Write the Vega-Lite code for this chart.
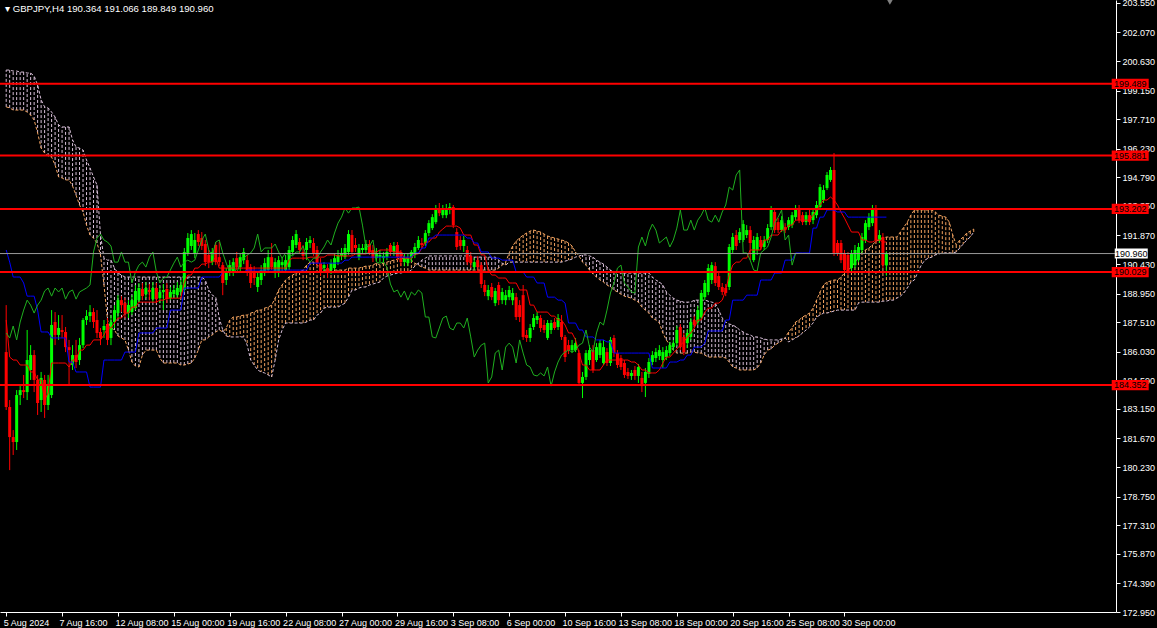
{
"$schema":"https://vega.github.io/schema/vega-lite/v6.json",
"width":1116,"height":612,
"autosize":{"type":"none"},
"padding":{"left":0,"top":0,"right":41,"bottom":16},
"background":"#000000",
"title":{"text":"▾ GBPJPY,H4  190.364 191.066 189.849 190.960","anchor":"start","offset":-15,"dx":5,"frame":"group"},
"config":{"view":{"stroke":null},"title":{"fontSize":9.6,"font":"Liberation Sans","fontWeight":"normal","color":"#ffffff"},"axis":{"labelFont":"Liberation Sans","labelFontSize":9,"labelColor":"#ffffff","domainColor":"#ffffff","tickColor":"#ffffff","grid":false,"labelOverlap":false,"labelFlush":false,"tickSize":4,"labelPadding":2}},
"datasets":{
"bars":[
{"i":0,"open":186.01,"high":188.37,"low":183.10,"close":183.25,"tenkan":187.62,"kijun":191.14,"chikou":186.97},
{"i":1,"open":183.25,"high":183.60,"low":180.08,"close":181.74,"tenkan":185.76,"kijun":190.53,"chikou":186.72},
{"i":2,"open":181.74,"high":182.09,"low":180.84,"close":181.49,"tenkan":185.61,"kijun":189.78,"chikou":187.32},
{"i":3,"open":181.49,"high":184.10,"low":181.09,"close":183.85,"tenkan":185.61,"kijun":189.78,"chikou":186.62},
{"i":4,"open":183.85,"high":184.36,"low":183.35,"close":184.10,"tenkan":185.36,"kijun":189.78,"chikou":187.52},
{"i":5,"open":184.10,"high":184.86,"low":183.70,"close":184.00,"tenkan":185.36,"kijun":189.48,"chikou":188.12},
{"i":6,"open":184.00,"high":187.12,"low":183.60,"close":185.61,"tenkan":185.36,"kijun":188.82,"chikou":188.62},
{"i":7,"open":185.11,"high":186.36,"low":184.61,"close":185.86,"tenkan":185.01,"kijun":188.82,"chikou":188.37},
{"i":8,"open":185.86,"high":186.11,"low":184.00,"close":184.61,"tenkan":185.01,"kijun":188.82,"chikou":187.97},
{"i":9,"open":184.61,"high":184.86,"low":182.85,"close":183.45,"tenkan":184.61,"kijun":188.12,"chikou":188.37},
{"i":10,"open":183.60,"high":185.01,"low":183.00,"close":184.71,"tenkan":184.61,"kijun":187.02,"chikou":188.62},
{"i":11,"open":184.61,"high":184.86,"low":182.70,"close":183.35,"tenkan":183.60,"kijun":187.02,"chikou":189.08},
{"i":12,"open":183.35,"high":184.86,"low":183.10,"close":184.36,"tenkan":183.95,"kijun":187.02,"chikou":189.23},
{"i":13,"open":183.85,"high":188.12,"low":183.70,"close":187.37,"tenkan":185.46,"kijun":186.72,"chikou":188.82},
{"i":14,"open":187.52,"high":188.02,"low":186.36,"close":186.87,"tenkan":185.46,"kijun":186.72,"chikou":189.23},
{"i":15,"open":186.87,"high":187.87,"low":186.62,"close":187.22,"tenkan":185.46,"kijun":186.72,"chikou":189.03},
{"i":16,"open":187.12,"high":187.87,"low":186.72,"close":187.02,"tenkan":185.46,"kijun":186.72,"chikou":189.23},
{"i":17,"open":187.02,"high":187.27,"low":186.01,"close":186.26,"tenkan":185.46,"kijun":186.72,"chikou":188.67},
{"i":18,"open":186.26,"high":186.62,"low":184.36,"close":186.11,"tenkan":185.26,"kijun":185.51,"chikou":189.03},
{"i":19,"open":185.36,"high":186.36,"low":185.11,"close":185.86,"tenkan":185.61,"kijun":185.51,"chikou":189.13},
{"i":20,"open":185.86,"high":186.62,"low":185.21,"close":185.51,"tenkan":185.61,"kijun":185.01,"chikou":188.67},
{"i":21,"open":185.61,"high":186.72,"low":185.36,"close":186.36,"tenkan":186.11,"kijun":185.01,"chikou":189.03},
{"i":22,"open":186.36,"high":187.72,"low":186.21,"close":187.62,"tenkan":186.11,"kijun":185.01,"chikou":189.13},
{"i":23,"open":187.62,"high":188.12,"low":187.37,"close":187.82,"tenkan":186.36,"kijun":185.01,"chikou":189.23},
{"i":24,"open":187.82,"high":188.37,"low":187.52,"close":188.02,"tenkan":186.36,"kijun":184.25,"chikou":189.38},
{"i":25,"open":188.02,"high":188.22,"low":187.22,"close":187.52,"tenkan":186.62,"kijun":184.25,"chikou":191.04},
{"i":26,"open":187.62,"high":188.12,"low":186.72,"close":186.97,"tenkan":186.62,"kijun":184.25,"chikou":191.74},
{"i":27,"open":187.02,"high":187.22,"low":186.36,"close":186.72,"tenkan":186.62,"kijun":184.25,"chikou":191.94},
{"i":28,"open":187.12,"high":187.62,"low":186.72,"close":187.32,"tenkan":186.87,"kijun":185.61,"chikou":191.64},
{"i":29,"open":187.42,"high":187.72,"low":186.36,"close":186.62,"tenkan":187.22,"kijun":185.61,"chikou":191.54},
{"i":30,"open":186.72,"high":187.87,"low":186.36,"close":187.52,"tenkan":187.22,"kijun":185.61,"chikou":191.34},
{"i":31,"open":187.52,"high":188.37,"low":187.22,"close":188.12,"tenkan":187.47,"kijun":185.61,"chikou":190.53},
{"i":32,"open":187.97,"high":188.87,"low":187.72,"close":188.62,"tenkan":187.72,"kijun":185.61,"chikou":190.53},
{"i":33,"open":188.62,"high":188.82,"low":188.02,"close":188.37,"tenkan":187.72,"kijun":185.61,"chikou":191.04},
{"i":34,"open":188.47,"high":188.72,"low":187.72,"close":187.97,"tenkan":187.97,"kijun":186.01,"chikou":190.53},
{"i":35,"open":187.97,"high":188.62,"low":187.72,"close":188.37,"tenkan":187.97,"kijun":186.01,"chikou":190.53},
{"i":36,"open":188.02,"high":188.87,"low":187.87,"close":188.62,"tenkan":188.27,"kijun":186.01,"chikou":189.48},
{"i":37,"open":188.22,"high":189.38,"low":188.12,"close":189.08,"tenkan":188.27,"kijun":186.01,"chikou":190.03},
{"i":38,"open":188.62,"high":189.48,"low":188.52,"close":189.23,"tenkan":188.52,"kijun":186.97,"chikou":190.38},
{"i":39,"open":189.18,"high":189.48,"low":188.62,"close":188.82,"tenkan":188.52,"kijun":186.97,"chikou":190.53},
{"i":40,"open":188.92,"high":189.53,"low":188.72,"close":189.23,"tenkan":188.52,"kijun":186.97,"chikou":190.28},
{"i":41,"open":189.13,"high":189.43,"low":188.62,"close":189.03,"tenkan":188.52,"kijun":186.97,"chikou":190.78},
{"i":42,"open":188.67,"high":189.53,"low":188.52,"close":189.23,"tenkan":188.52,"kijun":186.97,"chikou":191.04},
{"i":43,"open":189.23,"high":189.48,"low":188.47,"close":188.67,"tenkan":188.52,"kijun":187.22,"chikou":190.03},
{"i":44,"open":188.72,"high":189.33,"low":188.47,"close":189.03,"tenkan":188.62,"kijun":187.22,"chikou":189.48},
{"i":45,"open":189.03,"high":189.43,"low":188.12,"close":189.13,"tenkan":188.62,"kijun":187.22,"chikou":189.73},
{"i":46,"open":189.18,"high":189.48,"low":188.47,"close":188.67,"tenkan":188.72,"kijun":187.22,"chikou":189.78},
{"i":47,"open":188.72,"high":189.28,"low":188.62,"close":189.03,"tenkan":188.72,"kijun":188.12,"chikou":190.13},
{"i":48,"open":188.92,"high":189.38,"low":188.72,"close":189.13,"tenkan":188.72,"kijun":188.12,"chikou":190.48},
{"i":49,"open":188.87,"high":189.53,"low":188.72,"close":189.23,"tenkan":188.72,"kijun":188.12,"chikou":190.78},
{"i":50,"open":189.03,"high":189.63,"low":188.82,"close":189.38,"tenkan":188.72,"kijun":188.12,"chikou":190.28},
{"i":51,"open":189.13,"high":191.24,"low":189.03,"close":191.04,"tenkan":189.53,"kijun":189.23,"chikou":190.53},
{"i":52,"open":190.99,"high":191.99,"low":190.84,"close":191.74,"tenkan":189.88,"kijun":189.23,"chikou":190.63},
{"i":53,"open":191.34,"high":192.14,"low":191.14,"close":191.94,"tenkan":189.88,"kijun":189.23,"chikou":190.53},
{"i":54,"open":190.94,"high":191.99,"low":190.73,"close":191.64,"tenkan":190.23,"kijun":189.23,"chikou":190.63},
{"i":55,"open":191.94,"high":192.14,"low":191.34,"close":191.54,"tenkan":190.23,"kijun":189.23,"chikou":191.14},
{"i":56,"open":191.74,"high":192.04,"low":191.14,"close":191.34,"tenkan":190.43,"kijun":189.78,"chikou":191.64},
{"i":57,"open":191.44,"high":191.64,"low":190.33,"close":190.53,"tenkan":190.43,"kijun":189.78,"chikou":191.94},
{"i":58,"open":190.89,"high":191.14,"low":190.23,"close":190.53,"tenkan":190.53,"kijun":189.78,"chikou":191.14},
{"i":59,"open":190.53,"high":191.24,"low":190.38,"close":191.04,"tenkan":190.53,"kijun":189.78,"chikou":190.84},
{"i":60,"open":191.39,"high":191.54,"low":190.38,"close":190.53,"tenkan":190.78,"kijun":189.78,"chikou":191.54},
{"i":61,"open":190.78,"high":191.54,"low":190.33,"close":190.53,"tenkan":190.23,"kijun":189.78,"chikou":191.64},
{"i":62,"open":190.38,"high":190.53,"low":188.87,"close":189.48,"tenkan":190.23,"kijun":190.03,"chikou":190.99},
{"i":63,"open":189.63,"high":190.23,"low":189.38,"close":190.03,"tenkan":190.23,"kijun":190.03,"chikou":190.48},
{"i":64,"open":190.03,"high":190.63,"low":189.83,"close":190.38,"tenkan":190.23,"kijun":190.03,"chikou":190.03},
{"i":65,"open":190.08,"high":190.73,"low":189.83,"close":190.53,"tenkan":190.23,"kijun":190.03,"chikou":190.38},
{"i":66,"open":190.73,"high":191.04,"low":190.13,"close":190.28,"tenkan":190.23,"kijun":190.03,"chikou":189.98},
{"i":67,"open":190.28,"high":190.94,"low":190.08,"close":190.78,"tenkan":190.23,"kijun":190.03,"chikou":190.48},
{"i":68,"open":190.63,"high":191.24,"low":190.43,"close":191.04,"tenkan":190.23,"kijun":190.03,"chikou":190.73},
{"i":69,"open":190.63,"high":190.89,"low":189.83,"close":190.03,"tenkan":190.23,"kijun":190.13,"chikou":190.89},
{"i":70,"open":190.28,"high":190.43,"low":189.23,"close":189.48,"tenkan":190.23,"kijun":190.13,"chikou":190.99},
{"i":71,"open":190.03,"high":190.33,"low":189.38,"close":189.73,"tenkan":190.23,"kijun":190.13,"chikou":191.24},
{"i":72,"open":189.28,"high":190.03,"low":189.03,"close":189.78,"tenkan":190.23,"kijun":190.13,"chikou":191.94},
{"i":73,"open":189.63,"high":190.38,"low":189.38,"close":190.13,"tenkan":190.23,"kijun":190.13,"chikou":191.04},
{"i":74,"open":189.98,"high":190.73,"low":189.83,"close":190.48,"tenkan":190.23,"kijun":190.13,"chikou":191.24},
{"i":75,"open":190.13,"high":191.14,"low":189.98,"close":190.78,"tenkan":190.23,"kijun":190.13,"chikou":191.24},
{"i":76,"open":190.78,"high":191.49,"low":190.13,"close":190.28,"tenkan":190.23,"kijun":190.13,"chikou":191.24},
{"i":77,"open":189.98,"high":190.73,"low":189.73,"close":190.53,"tenkan":190.23,"kijun":190.13,"chikou":191.44},
{"i":78,"open":189.98,"high":190.84,"low":189.78,"close":190.63,"tenkan":190.23,"kijun":190.13,"chikou":191.04},
{"i":79,"open":190.38,"high":190.78,"low":190.03,"close":190.53,"tenkan":190.23,"kijun":190.13,"chikou":190.73},
{"i":80,"open":190.13,"high":190.89,"low":189.98,"close":190.63,"tenkan":190.23,"kijun":190.13,"chikou":190.99},
{"i":81,"open":190.28,"high":191.34,"low":190.13,"close":191.14,"tenkan":190.63,"kijun":190.13,"chikou":190.89},
{"i":82,"open":191.04,"high":191.84,"low":190.89,"close":191.64,"tenkan":190.73,"kijun":190.13,"chikou":190.84},
{"i":83,"open":191.39,"high":192.14,"low":191.24,"close":191.94,"tenkan":190.73,"kijun":190.13,"chikou":191.04},
{"i":84,"open":191.54,"high":191.74,"low":190.94,"close":191.14,"tenkan":190.73,"kijun":190.13,"chikou":191.04},
{"i":85,"open":191.04,"high":191.39,"low":190.63,"close":190.84,"tenkan":190.73,"kijun":190.13,"chikou":191.34},
{"i":86,"open":191.14,"high":191.74,"low":190.63,"close":191.54,"tenkan":190.73,"kijun":190.13,"chikou":190.78},
{"i":87,"open":191.49,"high":191.84,"low":191.24,"close":191.64,"tenkan":190.78,"kijun":190.48,"chikou":190.53},
{"i":88,"open":191.49,"high":191.74,"low":190.84,"close":190.99,"tenkan":190.78,"kijun":190.48,"chikou":190.73},
{"i":89,"open":191.14,"high":191.34,"low":190.33,"close":190.48,"tenkan":190.78,"kijun":190.48,"chikou":190.73},
{"i":90,"open":190.48,"high":190.73,"low":189.83,"close":190.03,"tenkan":190.78,"kijun":190.48,"chikou":191.04},
{"i":91,"open":190.23,"high":190.53,"low":190.03,"close":190.38,"tenkan":190.78,"kijun":190.48,"chikou":191.29},
{"i":92,"open":190.23,"high":190.43,"low":189.73,"close":189.98,"tenkan":190.89,"kijun":190.48,"chikou":191.64},
{"i":93,"open":190.13,"high":190.68,"low":189.93,"close":190.48,"tenkan":190.89,"kijun":190.48,"chikou":191.39},
{"i":94,"open":190.23,"high":190.94,"low":190.13,"close":190.73,"tenkan":190.89,"kijun":190.48,"chikou":191.99},
{"i":95,"open":190.53,"high":191.14,"low":190.38,"close":190.89,"tenkan":190.84,"kijun":190.48,"chikou":192.49},
{"i":96,"open":190.84,"high":191.24,"low":190.63,"close":190.99,"tenkan":190.84,"kijun":190.48,"chikou":192.79},
{"i":97,"open":190.78,"high":191.44,"low":190.68,"close":191.24,"tenkan":190.84,"kijun":190.63,"chikou":193.25},
{"i":98,"open":191.04,"high":192.14,"low":190.89,"close":191.94,"tenkan":190.84,"kijun":190.63,"chikou":192.99},
{"i":99,"open":191.89,"high":192.14,"low":190.89,"close":191.04,"tenkan":190.84,"kijun":190.78,"chikou":193.25},
{"i":100,"open":191.39,"high":191.74,"low":191.04,"close":191.24,"tenkan":190.94,"kijun":190.78,"chikou":193.25},
{"i":101,"open":190.78,"high":191.44,"low":190.63,"close":191.24,"tenkan":190.94,"kijun":190.78,"chikou":193.30},
{"i":102,"open":191.14,"high":191.44,"low":190.99,"close":191.24,"tenkan":190.94,"kijun":190.78,"chikou":192.39},
{"i":103,"open":191.14,"high":191.64,"low":190.94,"close":191.44,"tenkan":190.94,"kijun":190.78,"chikou":191.29},
{"i":104,"open":191.44,"high":191.64,"low":190.89,"close":191.04,"tenkan":191.04,"kijun":190.78,"chikou":191.34},
{"i":105,"open":191.14,"high":191.39,"low":190.53,"close":190.73,"tenkan":191.04,"kijun":190.78,"chikou":191.64},
{"i":106,"open":190.73,"high":191.24,"low":190.58,"close":190.99,"tenkan":191.04,"kijun":190.78,"chikou":190.53},
{"i":107,"open":190.78,"high":191.14,"low":190.53,"close":190.89,"tenkan":191.14,"kijun":190.78,"chikou":190.48},
{"i":108,"open":190.73,"high":191.04,"low":190.53,"close":190.84,"tenkan":191.14,"kijun":190.78,"chikou":190.53},
{"i":109,"open":190.78,"high":191.24,"low":190.63,"close":191.04,"tenkan":191.14,"kijun":190.78,"chikou":190.28},
{"i":110,"open":191.39,"high":191.49,"low":190.84,"close":191.04,"tenkan":191.14,"kijun":190.78,"chikou":189.43},
{"i":111,"open":191.04,"high":191.54,"low":190.84,"close":191.34,"tenkan":191.04,"kijun":190.78,"chikou":189.03},
{"i":112,"open":191.39,"high":191.54,"low":190.63,"close":190.78,"tenkan":191.04,"kijun":190.78,"chikou":189.13},
{"i":113,"open":191.04,"high":191.14,"low":190.33,"close":190.53,"tenkan":191.04,"kijun":190.78,"chikou":188.77},
{"i":114,"open":190.53,"high":190.94,"low":190.33,"close":190.73,"tenkan":190.73,"kijun":190.78,"chikou":189.08},
{"i":115,"open":190.48,"high":190.94,"low":190.33,"close":190.73,"tenkan":190.73,"kijun":190.78,"chikou":188.62},
{"i":116,"open":190.73,"high":191.14,"low":190.53,"close":191.04,"tenkan":190.73,"kijun":190.78,"chikou":189.03},
{"i":117,"open":190.89,"high":191.49,"low":190.73,"close":191.29,"tenkan":190.94,"kijun":190.99,"chikou":188.87},
{"i":118,"open":191.24,"high":191.84,"low":191.14,"close":191.64,"tenkan":190.94,"kijun":190.99,"chikou":189.13},
{"i":119,"open":191.49,"high":191.74,"low":191.19,"close":191.39,"tenkan":191.24,"kijun":191.24,"chikou":188.98},
{"i":120,"open":191.49,"high":192.14,"low":191.34,"close":191.99,"tenkan":191.54,"kijun":191.24,"chikou":187.77},
{"i":121,"open":191.99,"high":192.64,"low":191.84,"close":192.49,"tenkan":191.54,"kijun":191.74,"chikou":187.77},
{"i":122,"open":192.24,"high":192.94,"low":192.14,"close":192.79,"tenkan":191.74,"kijun":191.74,"chikou":186.77},
{"i":123,"open":192.54,"high":193.40,"low":192.44,"close":193.25,"tenkan":191.74,"kijun":191.89,"chikou":186.72},
{"i":124,"open":193.25,"high":193.50,"low":192.84,"close":192.99,"tenkan":192.04,"kijun":191.89,"chikou":187.22},
{"i":125,"open":192.89,"high":193.40,"low":192.74,"close":193.25,"tenkan":192.19,"kijun":191.89,"chikou":187.72},
{"i":126,"open":192.89,"high":193.45,"low":192.74,"close":193.25,"tenkan":192.34,"kijun":191.89,"chikou":187.82},
{"i":127,"open":193.15,"high":193.50,"low":192.94,"close":193.30,"tenkan":192.34,"kijun":191.89,"chikou":187.22},
{"i":128,"open":193.30,"high":193.40,"low":192.24,"close":192.39,"tenkan":192.34,"kijun":191.89,"chikou":187.12},
{"i":129,"open":192.04,"high":192.24,"low":191.14,"close":191.29,"tenkan":192.34,"kijun":191.89,"chikou":187.47},
{"i":130,"open":191.64,"high":191.84,"low":191.14,"close":191.34,"tenkan":192.24,"kijun":191.89,"chikou":187.47},
{"i":131,"open":191.34,"high":191.84,"low":191.04,"close":191.64,"tenkan":191.89,"kijun":191.89,"chikou":187.22},
{"i":132,"open":191.14,"high":191.34,"low":190.38,"close":190.53,"tenkan":191.89,"kijun":191.74,"chikou":187.72},
{"i":133,"open":190.84,"high":191.04,"low":190.23,"close":190.48,"tenkan":191.89,"kijun":191.74,"chikou":186.77},
{"i":134,"open":190.28,"high":190.73,"low":190.13,"close":190.53,"tenkan":191.39,"kijun":191.49,"chikou":185.76},
{"i":135,"open":190.63,"high":190.84,"low":190.03,"close":190.28,"tenkan":191.39,"kijun":191.49,"chikou":186.11},
{"i":136,"open":190.38,"high":190.53,"low":189.23,"close":189.43,"tenkan":190.89,"kijun":191.04,"chikou":186.36},
{"i":137,"open":189.38,"high":189.63,"low":188.82,"close":189.03,"tenkan":190.89,"kijun":191.04,"chikou":186.46},
{"i":138,"open":188.82,"high":189.38,"low":188.62,"close":189.13,"tenkan":190.13,"kijun":191.04,"chikou":184.46},
{"i":139,"open":189.28,"high":189.48,"low":188.62,"close":188.77,"tenkan":189.88,"kijun":190.73,"chikou":184.76},
{"i":140,"open":188.47,"high":189.23,"low":188.32,"close":189.08,"tenkan":189.88,"kijun":190.73,"chikou":185.96},
{"i":141,"open":189.38,"high":189.53,"low":188.37,"close":188.62,"tenkan":189.73,"kijun":190.73,"chikou":186.11},
{"i":142,"open":188.62,"high":189.23,"low":188.42,"close":189.03,"tenkan":189.73,"kijun":190.63,"chikou":185.11},
{"i":143,"open":188.62,"high":189.13,"low":188.37,"close":188.87,"tenkan":189.73,"kijun":190.63,"chikou":186.26},
{"i":144,"open":188.77,"high":189.33,"low":188.62,"close":189.13,"tenkan":189.48,"kijun":190.63,"chikou":186.46},
{"i":145,"open":188.62,"high":189.23,"low":188.37,"close":188.98,"tenkan":189.48,"kijun":190.63,"chikou":186.26},
{"i":146,"open":188.77,"high":188.98,"low":187.62,"close":187.77,"tenkan":189.48,"kijun":190.03,"chikou":185.46},
{"i":147,"open":188.37,"high":188.62,"low":187.52,"close":187.77,"tenkan":189.13,"kijun":190.03,"chikou":186.62},
{"i":148,"open":188.87,"high":189.38,"low":186.62,"close":186.77,"tenkan":189.13,"kijun":190.03,"chikou":185.96},
{"i":149,"open":186.87,"high":187.12,"low":186.52,"close":186.72,"tenkan":189.13,"kijun":189.78,"chikou":185.36},
{"i":150,"open":186.72,"high":187.42,"low":186.52,"close":187.22,"tenkan":188.37,"kijun":189.78,"chikou":185.26},
{"i":151,"open":187.27,"high":187.92,"low":187.12,"close":187.72,"tenkan":188.37,"kijun":189.78,"chikou":184.86},
{"i":152,"open":187.62,"high":188.02,"low":187.42,"close":187.82,"tenkan":188.02,"kijun":189.48,"chikou":184.81},
{"i":153,"open":187.72,"high":187.87,"low":187.02,"close":187.22,"tenkan":188.02,"kijun":189.48,"chikou":184.96},
{"i":154,"open":187.37,"high":187.62,"low":186.97,"close":187.12,"tenkan":188.02,"kijun":189.48,"chikou":184.81},
{"i":155,"open":186.72,"high":187.62,"low":186.62,"close":187.47,"tenkan":188.02,"kijun":188.77,"chikou":185.26},
{"i":156,"open":187.12,"high":187.62,"low":186.92,"close":187.47,"tenkan":187.82,"kijun":188.77,"chikou":184.30},
{"i":157,"open":187.52,"high":187.72,"low":187.12,"close":187.22,"tenkan":187.82,"kijun":188.77,"chikou":185.01},
{"i":158,"open":187.27,"high":187.92,"low":187.12,"close":187.72,"tenkan":187.62,"kijun":188.62,"chikou":185.51},
{"i":159,"open":187.52,"high":187.87,"low":186.62,"close":186.77,"tenkan":187.62,"kijun":188.62,"chikou":185.86},
{"i":160,"open":186.77,"high":186.87,"low":185.51,"close":185.76,"tenkan":187.37,"kijun":188.47,"chikou":186.01},
{"i":161,"open":186.36,"high":186.62,"low":185.91,"close":186.11,"tenkan":186.97,"kijun":187.47,"chikou":186.11},
{"i":162,"open":186.11,"high":186.62,"low":185.96,"close":186.36,"tenkan":186.97,"kijun":187.47,"chikou":186.01},
{"i":163,"open":186.11,"high":186.72,"low":186.01,"close":186.46,"tenkan":186.62,"kijun":187.47,"chikou":186.11},
{"i":164,"open":185.96,"high":186.11,"low":184.36,"close":184.46,"tenkan":185.96,"kijun":187.12,"chikou":186.36},
{"i":165,"open":184.46,"high":185.01,"low":183.70,"close":184.76,"tenkan":185.36,"kijun":187.12,"chikou":186.46},
{"i":166,"open":184.76,"high":186.11,"low":184.61,"close":185.96,"tenkan":185.36,"kijun":186.77,"chikou":187.12},
{"i":167,"open":185.61,"high":186.36,"low":185.36,"close":186.11,"tenkan":185.11,"kijun":186.77,"chikou":186.26},
{"i":168,"open":186.11,"high":186.36,"low":184.96,"close":185.11,"tenkan":185.11,"kijun":186.77,"chikou":186.01},
{"i":169,"open":185.61,"high":186.46,"low":185.51,"close":186.26,"tenkan":185.11,"kijun":186.62,"chikou":186.97},
{"i":170,"open":185.86,"high":186.62,"low":185.71,"close":186.46,"tenkan":185.11,"kijun":186.62,"chikou":187.52},
{"i":171,"open":185.46,"high":186.62,"low":185.36,"close":186.26,"tenkan":185.36,"kijun":186.62,"chikou":187.37},
{"i":172,"open":186.01,"high":186.21,"low":185.31,"close":185.46,"tenkan":185.61,"kijun":186.52,"chikou":188.12},
{"i":173,"open":185.46,"high":186.77,"low":185.31,"close":186.62,"tenkan":185.61,"kijun":186.52,"chikou":188.98},
{"i":174,"open":186.72,"high":186.87,"low":185.76,"close":185.96,"tenkan":185.61,"kijun":185.96,"chikou":189.48},
{"i":175,"open":185.96,"high":186.11,"low":185.21,"close":185.36,"tenkan":185.61,"kijun":185.96,"chikou":190.23},
{"i":176,"open":185.71,"high":185.86,"low":185.11,"close":185.26,"tenkan":185.61,"kijun":185.96,"chikou":190.38},
{"i":177,"open":185.46,"high":185.61,"low":184.71,"close":184.86,"tenkan":185.61,"kijun":185.96,"chikou":189.48},
{"i":178,"open":185.01,"high":185.21,"low":184.66,"close":184.81,"tenkan":185.61,"kijun":185.96,"chikou":189.28},
{"i":179,"open":184.81,"high":185.11,"low":184.61,"close":184.96,"tenkan":185.51,"kijun":185.96,"chikou":189.03},
{"i":180,"open":185.11,"high":185.31,"low":184.61,"close":184.81,"tenkan":185.51,"kijun":185.96,"chikou":188.98},
{"i":181,"open":184.81,"high":185.41,"low":184.46,"close":185.26,"tenkan":185.36,"kijun":185.96,"chikou":191.29},
{"i":182,"open":184.71,"high":185.01,"low":184.00,"close":184.30,"tenkan":185.11,"kijun":185.96,"chikou":191.79},
{"i":183,"open":184.46,"high":185.21,"low":183.75,"close":185.01,"tenkan":185.11,"kijun":185.96,"chikou":191.34},
{"i":184,"open":184.91,"high":185.71,"low":184.71,"close":185.51,"tenkan":184.96,"kijun":185.96,"chikou":192.04},
{"i":185,"open":185.51,"high":186.06,"low":185.36,"close":185.86,"tenkan":184.96,"kijun":185.21,"chikou":192.44},
{"i":186,"open":185.71,"high":186.21,"low":185.51,"close":186.01,"tenkan":184.96,"kijun":185.21,"chikou":192.14},
{"i":187,"open":185.81,"high":186.36,"low":185.61,"close":186.11,"tenkan":185.11,"kijun":185.21,"chikou":191.49},
{"i":188,"open":185.61,"high":186.26,"low":185.21,"close":186.01,"tenkan":185.46,"kijun":185.21,"chikou":191.64},
{"i":189,"open":185.76,"high":186.31,"low":185.61,"close":186.11,"tenkan":185.76,"kijun":185.21,"chikou":191.79},
{"i":190,"open":185.96,"high":186.52,"low":185.81,"close":186.36,"tenkan":185.76,"kijun":185.51,"chikou":191.29},
{"i":191,"open":186.26,"high":186.62,"low":186.11,"close":186.46,"tenkan":185.96,"kijun":185.51,"chikou":191.64},
{"i":192,"open":186.46,"high":187.32,"low":186.31,"close":187.12,"tenkan":186.16,"kijun":185.51,"chikou":192.24},
{"i":193,"open":187.27,"high":187.42,"low":186.11,"close":186.26,"tenkan":186.36,"kijun":185.61,"chikou":193.15},
{"i":194,"open":186.77,"high":186.97,"low":185.86,"close":186.01,"tenkan":186.52,"kijun":185.61,"chikou":192.14},
{"i":195,"open":186.46,"high":187.17,"low":186.21,"close":186.97,"tenkan":186.77,"kijun":185.86,"chikou":192.14},
{"i":196,"open":186.77,"high":187.72,"low":186.62,"close":187.52,"tenkan":186.97,"kijun":185.86,"chikou":192.64},
{"i":197,"open":187.62,"high":187.82,"low":187.22,"close":187.37,"tenkan":187.22,"kijun":186.26,"chikou":192.14},
{"i":198,"open":187.52,"high":188.32,"low":187.37,"close":188.12,"tenkan":187.62,"kijun":186.26,"chikou":192.64},
{"i":199,"open":187.77,"high":189.13,"low":187.62,"close":188.98,"tenkan":187.62,"kijun":186.26,"chikou":192.89},
{"i":200,"open":188.77,"high":189.63,"low":188.62,"close":189.48,"tenkan":188.02,"kijun":186.46,"chikou":193.25},
{"i":201,"open":189.03,"high":190.43,"low":188.87,"close":190.23,"tenkan":188.22,"kijun":187.07,"chikou":192.64},
{"i":202,"open":189.63,"high":190.53,"low":189.43,"close":190.38,"tenkan":188.22,"kijun":187.07,"chikou":192.54},
{"i":203,"open":190.33,"high":190.53,"low":189.33,"close":189.48,"tenkan":188.47,"kijun":187.07,"chikou":192.89},
{"i":204,"open":189.83,"high":190.03,"low":189.13,"close":189.28,"tenkan":188.47,"kijun":187.07,"chikou":192.54},
{"i":205,"open":189.28,"high":189.48,"low":188.87,"close":189.03,"tenkan":188.62,"kijun":187.07,"chikou":193.05},
{"i":206,"open":189.23,"high":189.43,"low":188.82,"close":188.98,"tenkan":189.13,"kijun":187.62,"chikou":193.40},
{"i":207,"open":189.28,"high":191.44,"low":189.13,"close":191.29,"tenkan":189.88,"kijun":187.62,"chikou":194.30},
{"i":208,"open":191.14,"high":191.99,"low":190.99,"close":191.79,"tenkan":190.38,"kijun":188.62,"chikou":194.15},
{"i":209,"open":191.89,"high":192.14,"low":191.14,"close":191.34,"tenkan":190.53,"kijun":188.62,"chikou":194.91},
{"i":210,"open":191.64,"high":192.24,"low":191.49,"close":192.04,"tenkan":190.53,"kijun":188.62,"chikou":195.16},
{"i":211,"open":191.64,"high":192.64,"low":191.54,"close":192.44,"tenkan":190.73,"kijun":188.62,"chikou":190.99},
{"i":212,"open":191.89,"high":192.39,"low":191.74,"close":192.14,"tenkan":190.73,"kijun":188.87,"chikou":190.99},
{"i":213,"open":192.14,"high":192.34,"low":190.63,"close":191.49,"tenkan":191.14,"kijun":188.87,"chikou":190.63},
{"i":214,"open":190.63,"high":191.84,"low":190.53,"close":191.64,"tenkan":191.14,"kijun":188.87,"chikou":190.13},
{"i":215,"open":191.14,"high":191.99,"low":190.89,"close":191.79,"tenkan":191.14,"kijun":188.87,"chikou":190.08},
{"i":216,"open":191.64,"high":191.84,"low":191.14,"close":191.29,"tenkan":191.14,"kijun":189.63,"chikou":190.99},
{"i":217,"open":191.29,"high":191.84,"low":191.14,"close":191.64,"tenkan":191.64,"kijun":189.63,"chikou":191.14},
{"i":218,"open":191.64,"high":192.44,"low":191.49,"close":192.24,"tenkan":191.64,"kijun":189.63,"chikou":191.29},
{"i":219,"open":192.29,"high":193.35,"low":192.14,"close":193.15,"tenkan":191.89,"kijun":189.63,"chikou":191.79},
{"i":220,"open":193.05,"high":193.25,"low":191.99,"close":192.14,"tenkan":191.89,"kijun":189.98,"chikou":192.49},
{"i":221,"open":192.54,"high":192.74,"low":191.99,"close":192.14,"tenkan":191.89,"kijun":189.98,"chikou":192.79},
{"i":222,"open":192.14,"high":192.84,"low":192.04,"close":192.64,"tenkan":192.14,"kijun":189.98,"chikou":193.15},
{"i":223,"open":192.29,"high":192.49,"low":191.99,"close":192.14,"tenkan":192.14,"kijun":190.63,"chikou":191.64},
{"i":224,"open":192.29,"high":192.79,"low":192.14,"close":192.64,"tenkan":192.39,"kijun":190.63,"chikou":191.89},
{"i":225,"open":192.39,"high":193.05,"low":192.24,"close":192.89,"tenkan":192.39,"kijun":190.63,"chikou":190.38},
{"i":226,"open":192.79,"high":193.40,"low":192.64,"close":193.25,"tenkan":192.64,"kijun":190.99,"chikou":190.96},
{"i":227,"open":193.25,"high":193.40,"low":192.49,"close":192.64,"tenkan":192.64,"kijun":190.99},
{"i":228,"open":192.89,"high":193.05,"low":192.39,"close":192.54,"tenkan":192.64,"kijun":190.99},
{"i":229,"open":192.54,"high":193.05,"low":192.39,"close":192.89,"tenkan":192.64,"kijun":190.99},
{"i":230,"open":192.89,"high":193.15,"low":192.39,"close":192.54,"tenkan":192.64,"kijun":190.99},
{"i":231,"open":192.64,"high":193.25,"low":192.44,"close":193.05,"tenkan":192.89,"kijun":192.24},
{"i":232,"open":192.89,"high":193.60,"low":192.74,"close":193.40,"tenkan":193.15,"kijun":192.24},
{"i":233,"open":193.30,"high":194.45,"low":193.15,"close":194.30,"tenkan":193.40,"kijun":192.79},
{"i":234,"open":193.65,"high":194.40,"low":193.50,"close":194.15,"tenkan":193.65,"kijun":192.79},
{"i":235,"open":194.25,"high":195.06,"low":194.15,"close":194.91,"tenkan":193.65,"kijun":193.15},
{"i":236,"open":194.66,"high":195.31,"low":194.56,"close":195.16,"tenkan":193.80,"kijun":193.15},
{"i":237,"open":195.16,"high":196.01,"low":190.84,"close":190.99,"tenkan":193.65,"kijun":193.15},
{"i":238,"open":191.49,"high":191.64,"low":190.84,"close":190.99,"tenkan":193.40,"kijun":193.05},
{"i":239,"open":191.49,"high":191.64,"low":190.48,"close":190.63,"tenkan":193.05,"kijun":193.05},
{"i":240,"open":190.99,"high":191.14,"low":190.03,"close":190.13,"tenkan":192.74,"kijun":193.05},
{"i":241,"open":190.89,"high":191.04,"low":189.88,"close":190.08,"tenkan":192.39,"kijun":192.79},
{"i":242,"open":190.23,"high":191.14,"low":190.08,"close":190.99,"tenkan":192.04,"kijun":192.79},
{"i":243,"open":190.38,"high":191.39,"low":190.23,"close":191.14,"tenkan":192.04,"kijun":192.79},
{"i":244,"open":190.63,"high":191.49,"low":190.53,"close":191.29,"tenkan":192.04,"kijun":192.79},
{"i":245,"open":191.14,"high":191.99,"low":190.99,"close":191.79,"tenkan":191.64,"kijun":192.79},
{"i":246,"open":191.64,"high":192.64,"low":191.49,"close":192.49,"tenkan":191.64,"kijun":192.79},
{"i":247,"open":192.29,"high":192.99,"low":192.14,"close":192.79,"tenkan":191.54,"kijun":192.79},
{"i":248,"open":192.49,"high":193.40,"low":192.34,"close":193.15,"tenkan":191.54,"kijun":192.79},
{"i":249,"open":193.15,"high":193.40,"low":191.49,"close":191.64,"tenkan":191.64,"kijun":192.79},
{"i":250,"open":191.64,"high":192.14,"low":191.49,"close":191.89,"tenkan":191.64,"kijun":192.79},
{"i":251,"open":191.79,"high":191.99,"low":190.23,"close":190.38,"tenkan":191.54,"kijun":192.79},
{"i":252,"open":190.364,"high":191.066,"low":189.849,"close":190.960,"tenkan":191.54,"kijun":192.79}
],
"cloud":[
{"i":0,"spanA":198.33,"spanB":200.18},{"i":1,"spanA":198.28,"spanB":200.18},{"i":2,"spanA":198.17,"spanB":200.13},{"i":3,"spanA":198.17,"spanB":200.13},{"i":4,"spanA":198.17,"spanB":200.08},{"i":5,"spanA":198.17,"spanB":200.08},{"i":6,"spanA":198.07,"spanB":200.03},{"i":7,"spanA":197.92,"spanB":200.03},{"i":8,"spanA":197.67,"spanB":199.88},{"i":9,"spanA":197.02,"spanB":199.43},
{"i":10,"spanA":196.26,"spanB":198.68},{"i":11,"spanA":196.01,"spanB":198.33},{"i":12,"spanA":195.86,"spanB":198.28},{"i":13,"spanA":195.81,"spanB":198.07},{"i":14,"spanA":195.41,"spanB":197.82},{"i":15,"spanA":194.81,"spanB":197.42},{"i":16,"spanA":194.76,"spanB":197.32},{"i":17,"spanA":194.66,"spanB":197.32},{"i":18,"spanA":194.66,"spanB":197.32},{"i":19,"spanA":194.35,"spanB":196.67},
{"i":20,"spanA":193.90,"spanB":196.31},{"i":21,"spanA":193.40,"spanB":196.26},{"i":22,"spanA":193.05,"spanB":196.16},{"i":23,"spanA":192.39,"spanB":195.66},{"i":24,"spanA":191.89,"spanB":195.26},{"i":25,"spanA":191.74,"spanB":194.81},{"i":26,"spanA":191.49,"spanB":194.40},{"i":27,"spanA":190.89,"spanB":191.89},{"i":28,"spanA":189.38,"spanB":190.73},{"i":29,"spanA":187.62,"spanB":190.63},
{"i":30,"spanA":187.22,"spanB":190.63},{"i":31,"spanA":187.12,"spanB":190.23},{"i":32,"spanA":186.82,"spanB":189.98},{"i":33,"spanA":186.72,"spanB":189.88},{"i":34,"spanA":186.62,"spanB":189.78},{"i":35,"spanA":186.11,"spanB":189.78},{"i":36,"spanA":185.51,"spanB":189.78},{"i":37,"spanA":185.31,"spanB":189.78},{"i":38,"spanA":185.26,"spanB":189.78},{"i":39,"spanA":185.86,"spanB":189.78},
{"i":40,"spanA":186.11,"spanB":189.78},{"i":41,"spanA":186.11,"spanB":189.78},{"i":42,"spanA":186.11,"spanB":189.78},{"i":43,"spanA":186.11,"spanB":189.78},{"i":44,"spanA":185.71,"spanB":189.78},{"i":45,"spanA":185.46,"spanB":189.78},{"i":46,"spanA":185.46,"spanB":189.78},{"i":47,"spanA":185.46,"spanB":189.78},{"i":48,"spanA":185.46,"spanB":189.78},{"i":49,"spanA":185.46,"spanB":189.78},
{"i":50,"spanA":185.36,"spanB":189.78},{"i":51,"spanA":185.36,"spanB":189.78},{"i":52,"spanA":185.41,"spanB":189.78},{"i":53,"spanA":185.46,"spanB":189.78},{"i":54,"spanA":185.71,"spanB":189.78},{"i":55,"spanA":186.11,"spanB":189.78},{"i":56,"spanA":186.62,"spanB":189.78},{"i":57,"spanA":186.62,"spanB":189.63},{"i":58,"spanA":186.77,"spanB":189.13},{"i":59,"spanA":186.87,"spanB":188.87},
{"i":60,"spanA":187.02,"spanB":188.77},{"i":61,"spanA":187.12,"spanB":187.72},{"i":62,"spanA":187.02,"spanB":187.12},{"i":63,"spanA":187.22,"spanB":186.82},{"i":64,"spanA":187.62,"spanB":186.77},{"i":65,"spanA":187.77,"spanB":186.77},{"i":66,"spanA":187.77,"spanB":186.77},{"i":67,"spanA":187.82,"spanB":186.77},{"i":68,"spanA":187.87,"spanB":186.77},{"i":69,"spanA":187.87,"spanB":186.36},
{"i":70,"spanA":187.97,"spanB":185.61},{"i":71,"spanA":188.02,"spanB":185.36},{"i":72,"spanA":188.12,"spanB":185.11},{"i":73,"spanA":188.12,"spanB":185.01},{"i":74,"spanA":188.22,"spanB":184.96},{"i":75,"spanA":188.27,"spanB":184.86},{"i":76,"spanA":188.37,"spanB":184.76},{"i":77,"spanA":188.72,"spanB":185.61},{"i":78,"spanA":189.13,"spanB":186.62},{"i":79,"spanA":189.38,"spanB":187.12},
{"i":80,"spanA":189.63,"spanB":187.47},{"i":81,"spanA":189.78,"spanB":187.47},{"i":82,"spanA":189.88,"spanB":187.47},{"i":83,"spanA":189.98,"spanB":187.47},{"i":84,"spanA":190.03,"spanB":187.47},{"i":85,"spanA":190.13,"spanB":187.47},{"i":86,"spanA":190.38,"spanB":187.52},{"i":87,"spanA":190.53,"spanB":187.62},{"i":88,"spanA":190.53,"spanB":187.62},{"i":89,"spanA":190.38,"spanB":187.87},
{"i":90,"spanA":190.28,"spanB":187.97},{"i":91,"spanA":190.13,"spanB":188.22},{"i":92,"spanA":190.13,"spanB":188.27},{"i":93,"spanA":190.13,"spanB":188.27},{"i":94,"spanA":190.13,"spanB":188.27},{"i":95,"spanA":190.13,"spanB":188.27},{"i":96,"spanA":190.13,"spanB":188.37},{"i":97,"spanA":190.13,"spanB":188.47},{"i":98,"spanA":190.23,"spanB":188.77},{"i":99,"spanA":190.23,"spanB":189.13},
{"i":100,"spanA":190.23,"spanB":189.13},{"i":101,"spanA":190.23,"spanB":189.23},{"i":102,"spanA":190.28,"spanB":189.28},{"i":103,"spanA":190.33,"spanB":189.28},{"i":104,"spanA":190.33,"spanB":189.38},{"i":105,"spanA":190.38,"spanB":189.43},{"i":106,"spanA":190.48,"spanB":189.48},{"i":107,"spanA":190.38,"spanB":189.53},{"i":108,"spanA":190.48,"spanB":189.73},{"i":109,"spanA":190.53,"spanB":189.83},
{"i":110,"spanA":190.58,"spanB":189.88},{"i":111,"spanA":190.63,"spanB":189.93},{"i":112,"spanA":190.68,"spanB":189.98},{"i":113,"spanA":190.73,"spanB":189.98},{"i":114,"spanA":190.73,"spanB":190.03},{"i":115,"spanA":190.73,"spanB":190.03},{"i":116,"spanA":190.63,"spanB":190.13},{"i":117,"spanA":190.48,"spanB":190.33},{"i":118,"spanA":190.38,"spanB":190.48},{"i":119,"spanA":190.28,"spanB":190.63},
{"i":120,"spanA":190.23,"spanB":190.73},{"i":121,"spanA":190.13,"spanB":190.84},{"i":122,"spanA":190.13,"spanB":190.84},{"i":123,"spanA":190.13,"spanB":190.84},{"i":124,"spanA":190.13,"spanB":190.84},{"i":125,"spanA":190.13,"spanB":190.84},{"i":126,"spanA":190.13,"spanB":190.84},{"i":127,"spanA":190.13,"spanB":190.84},{"i":128,"spanA":190.13,"spanB":190.84},{"i":129,"spanA":190.13,"spanB":190.84},
{"i":130,"spanA":190.13,"spanB":190.84},{"i":131,"spanA":190.13,"spanB":190.84},{"i":132,"spanA":190.13,"spanB":190.84},{"i":133,"spanA":190.13,"spanB":190.84},{"i":134,"spanA":190.13,"spanB":190.78},{"i":135,"spanA":190.13,"spanB":190.78},{"i":136,"spanA":190.13,"spanB":190.78},{"i":137,"spanA":190.13,"spanB":190.78},{"i":138,"spanA":190.13,"spanB":190.78},{"i":139,"spanA":190.13,"spanB":190.78},
{"i":140,"spanA":190.13,"spanB":190.78},{"i":141,"spanA":190.23,"spanB":190.63},{"i":142,"spanA":190.38,"spanB":190.48},{"i":143,"spanA":190.53,"spanB":190.38},{"i":144,"spanA":190.99,"spanB":190.53},{"i":145,"spanA":191.34,"spanB":190.53},{"i":146,"spanA":191.59,"spanB":190.53},{"i":147,"spanA":191.74,"spanB":190.53},{"i":148,"spanA":191.89,"spanB":190.53},{"i":149,"spanA":191.99,"spanB":190.53},
{"i":150,"spanA":192.09,"spanB":190.53},{"i":151,"spanA":192.14,"spanB":190.53},{"i":152,"spanA":192.09,"spanB":190.53},{"i":153,"spanA":192.04,"spanB":190.53},{"i":154,"spanA":191.94,"spanB":190.53},{"i":155,"spanA":191.84,"spanB":190.53},{"i":156,"spanA":191.79,"spanB":190.53},{"i":157,"spanA":191.74,"spanB":190.53},{"i":158,"spanA":191.69,"spanB":190.53},{"i":159,"spanA":191.64,"spanB":190.53},
{"i":160,"spanA":191.59,"spanB":190.58},{"i":161,"spanA":191.49,"spanB":190.63},{"i":162,"spanA":191.34,"spanB":190.68},{"i":163,"spanA":191.04,"spanB":190.78},{"i":164,"spanA":190.84,"spanB":190.84},{"i":165,"spanA":190.53,"spanB":190.89},{"i":166,"spanA":190.38,"spanB":190.89},{"i":167,"spanA":190.13,"spanB":190.84},{"i":168,"spanA":189.93,"spanB":190.78},{"i":169,"spanA":189.78,"spanB":190.63},
{"i":170,"spanA":189.63,"spanB":190.53},{"i":171,"spanA":189.53,"spanB":190.43},{"i":172,"spanA":189.38,"spanB":190.28},{"i":173,"spanA":189.28,"spanB":190.13},{"i":174,"spanA":189.13,"spanB":190.03},{"i":175,"spanA":189.03,"spanB":190.03},{"i":176,"spanA":188.92,"spanB":189.98},{"i":177,"spanA":188.82,"spanB":189.98},{"i":178,"spanA":188.77,"spanB":189.98},{"i":179,"spanA":188.72,"spanB":189.98},
{"i":180,"spanA":188.62,"spanB":189.98},{"i":181,"spanA":188.52,"spanB":189.98},{"i":182,"spanA":188.27,"spanB":189.98},{"i":183,"spanA":188.12,"spanB":189.98},{"i":184,"spanA":187.97,"spanB":189.98},{"i":185,"spanA":187.72,"spanB":189.78},{"i":186,"spanA":187.62,"spanB":189.63},{"i":187,"spanA":187.47,"spanB":189.53},{"i":188,"spanA":186.97,"spanB":189.38},{"i":189,"spanA":186.62,"spanB":189.03},
{"i":190,"spanA":186.36,"spanB":188.87},{"i":191,"spanA":186.11,"spanB":188.72},{"i":192,"spanA":185.96,"spanB":188.62},{"i":193,"spanA":185.96,"spanB":188.57},{"i":194,"spanA":185.96,"spanB":188.52},{"i":195,"spanA":185.96,"spanB":188.52},{"i":196,"spanA":186.01,"spanB":188.52},{"i":197,"spanA":186.01,"spanB":188.62},{"i":198,"spanA":185.96,"spanB":188.62},{"i":199,"spanA":185.96,"spanB":188.62},
{"i":200,"spanA":185.86,"spanB":188.62},{"i":201,"spanA":185.76,"spanB":188.57},{"i":202,"spanA":185.76,"spanB":188.52},{"i":203,"spanA":185.76,"spanB":188.47},{"i":204,"spanA":185.76,"spanB":188.12},{"i":205,"spanA":185.76,"spanB":187.72},{"i":206,"spanA":185.71,"spanB":187.52},{"i":207,"spanA":185.51,"spanB":187.42},{"i":208,"spanA":185.26,"spanB":187.37},{"i":209,"spanA":185.21,"spanB":187.27},
{"i":210,"spanA":185.11,"spanB":187.12},{"i":211,"spanA":185.11,"spanB":187.02},{"i":212,"spanA":185.11,"spanB":186.92},{"i":213,"spanA":185.11,"spanB":186.87},{"i":214,"spanA":185.11,"spanB":186.77},{"i":215,"spanA":185.21,"spanB":186.77},{"i":216,"spanA":185.46,"spanB":186.72},{"i":217,"spanA":185.86,"spanB":186.67},{"i":218,"spanA":186.11,"spanB":186.62},{"i":219,"spanA":186.16,"spanB":186.62},
{"i":220,"spanA":186.36,"spanB":186.62},{"i":221,"spanA":186.46,"spanB":186.62},{"i":222,"spanA":186.57,"spanB":186.67},{"i":223,"spanA":186.72,"spanB":186.72},{"i":224,"spanA":187.02,"spanB":186.52},{"i":225,"spanA":187.22,"spanB":186.62},{"i":226,"spanA":187.52,"spanB":186.72},{"i":227,"spanA":187.62,"spanB":186.82},{"i":228,"spanA":187.77,"spanB":186.97},{"i":229,"spanA":187.87,"spanB":187.12},
{"i":230,"spanA":187.97,"spanB":187.27},{"i":231,"spanA":188.22,"spanB":187.47},{"i":232,"spanA":188.62,"spanB":187.77},{"i":233,"spanA":189.03,"spanB":187.87},{"i":234,"spanA":189.38,"spanB":187.97},{"i":235,"spanA":189.53,"spanB":187.97},{"i":236,"spanA":189.58,"spanB":188.02},{"i":237,"spanA":189.63,"spanB":188.07},{"i":238,"spanA":189.63,"spanB":188.12},{"i":239,"spanA":189.78,"spanB":188.12},
{"i":240,"spanA":189.98,"spanB":188.12},{"i":241,"spanA":190.13,"spanB":188.12},{"i":242,"spanA":190.28,"spanB":188.12},{"i":243,"spanA":190.53,"spanB":188.12},{"i":244,"spanA":190.78,"spanB":188.47},{"i":245,"spanA":191.04,"spanB":188.52},{"i":246,"spanA":191.14,"spanB":188.52},{"i":247,"spanA":191.24,"spanB":188.52},{"i":248,"spanA":191.39,"spanB":188.52},{"i":249,"spanA":191.59,"spanB":188.52},
{"i":250,"spanA":191.64,"spanB":188.52},{"i":251,"spanA":191.74,"spanB":188.57},{"i":252,"spanA":191.79,"spanB":188.57},{"i":253,"spanA":191.79,"spanB":188.62},{"i":254,"spanA":191.79,"spanB":188.62},{"i":255,"spanA":191.79,"spanB":188.72},{"i":256,"spanA":192.04,"spanB":188.82},{"i":257,"spanA":192.29,"spanB":188.98},{"i":258,"spanA":192.54,"spanB":189.23},{"i":259,"spanA":192.89,"spanB":189.53},
{"i":260,"spanA":193.15,"spanB":189.63},{"i":261,"spanA":193.15,"spanB":190.03},{"i":262,"spanA":193.15,"spanB":190.38},{"i":263,"spanA":193.15,"spanB":190.63},{"i":264,"spanA":193.15,"spanB":190.73},{"i":265,"spanA":193.15,"spanB":190.78},{"i":266,"spanA":193.05,"spanB":190.89},{"i":267,"spanA":192.89,"spanB":190.94},{"i":268,"spanA":192.84,"spanB":190.99},{"i":269,"spanA":192.79,"spanB":190.99},
{"i":270,"spanA":192.54,"spanB":190.99},{"i":271,"spanA":191.89,"spanB":190.99},{"i":272,"spanA":191.39,"spanB":191.04},{"i":273,"spanA":191.64,"spanB":191.24},{"i":274,"spanA":191.79,"spanB":191.44},{"i":275,"spanA":191.99,"spanB":191.64},{"i":276,"spanA":192.09,"spanB":191.79},{"i":277,"spanA":192.19,"spanB":192.04}
],
"levels":[{"level":199.489},{"level":195.881},{"level":193.202},{"level":190.029},{"level":184.352}],
"price":[{"price":190.960}]
},
"layer":[
{"data":{"name":"cloud"},"mark":{"type":"rule","strokeWidth":1,"strokeDash":[3,2]},
 "encoding":{
  "x":{"field":"i","type":"quantitative","title":null,"scale":{"domain":[-0.34,316.3],"nice":false,"zero":false},
   "axis":{"title":null,"values":[0,16,32,48,64,80,96,112,128,144,160,176,192,208,224,240],"tickCount":40,"labelExpr":"['5 Aug 2024','7 Aug 16:00','12 Aug 08:00','15 Aug 00:00','19 Aug 16:00','22 Aug 08:00','27 Aug 00:00','29 Aug 16:00','3 Sep 08:00','6 Sep 00:00','10 Sep 16:00','13 Sep 08:00','18 Sep 00:00','20 Sep 16:00','25 Sep 08:00','30 Sep 00:00'][round(datum.value/16)]","labelAlign":"left","labelOffset":-3,"labelOverlap":false,"labelFlush":false}},
  "y":{"field":"spanA","type":"quantitative","title":null,"scale":{"domain":[172.95,203.7],"nice":false,"zero":false},
   "axis":{"title":null,"orient":"right","values":[172.95,174.39,175.87,177.31,178.75,180.23,181.67,183.15,184.59,186.03,187.51,188.95,190.43,191.87,193.35,194.79,196.23,197.71,199.15,200.63,202.07,203.55],"tickCount":40,"format":".3f","labelOverlap":false,"labelFlush":false}},
  "y2":{"field":"spanB"},
  "color":{"condition":{"test":"datum.spanA >= datum.spanB","value":"#f4a460"},"value":"#d8bfd8"}}},
{"data":{"name":"cloud"},"mark":{"type":"line","strokeWidth":1,"strokeDash":[3,2],"color":"#f4a460","interpolate":"linear"},
 "encoding":{"x":{"field":"i","type":"quantitative","title":null,"scale":{"domain":[-0.34,316.3],"nice":false,"zero":false}},
  "y":{"field":"spanA","type":"quantitative","title":null,"scale":{"domain":[172.95,203.7],"nice":false,"zero":false}}}},
{"data":{"name":"cloud"},"mark":{"type":"line","strokeWidth":1,"strokeDash":[3,2],"color":"#d8bfd8"},
 "encoding":{"x":{"field":"i","type":"quantitative","title":null,"scale":{"domain":[-0.34,316.3],"nice":false,"zero":false}},
  "y":{"field":"spanB","type":"quantitative","title":null,"scale":{"domain":[172.95,203.7],"nice":false,"zero":false}}}},
{"data":{"name":"bars"},"mark":{"type":"rule","strokeWidth":1},
 "encoding":{"x":{"field":"i","type":"quantitative","title":null,"scale":{"domain":[-0.34,316.3],"nice":false,"zero":false}},
  "y":{"field":"low","type":"quantitative","title":null,"scale":{"domain":[172.95,203.7],"nice":false,"zero":false}},
  "y2":{"field":"high"},
  "color":{"condition":{"test":"datum.close >= datum.open","value":"#00ff00"},"value":"#ff0000"}}},
{"data":{"name":"bars"},"mark":{"type":"bar","width":3},
 "encoding":{"x":{"field":"i","type":"quantitative","title":null,"scale":{"domain":[-0.34,316.3],"nice":false,"zero":false}},
  "y":{"field":"open","type":"quantitative","title":null,"scale":{"domain":[172.95,203.7],"nice":false,"zero":false}},
  "y2":{"field":"close"},
  "color":{"condition":{"test":"datum.close >= datum.open","value":"#00ff00"},"value":"#ff0000"}}},
{"data":{"name":"bars"},"mark":{"type":"line","strokeWidth":1,"color":"#ff0000"},
 "encoding":{"x":{"field":"i","type":"quantitative","title":null,"scale":{"domain":[-0.34,316.3],"nice":false,"zero":false}},
  "y":{"field":"tenkan","type":"quantitative","title":null,"scale":{"domain":[172.95,203.7],"nice":false,"zero":false}}}},
{"data":{"name":"bars"},"mark":{"type":"line","strokeWidth":1,"color":"#0000ff"},
 "encoding":{"x":{"field":"i","type":"quantitative","title":null,"scale":{"domain":[-0.34,316.3],"nice":false,"zero":false}},
  "y":{"field":"kijun","type":"quantitative","title":null,"scale":{"domain":[172.95,203.7],"nice":false,"zero":false}}}},
{"data":{"name":"bars"},"transform":[{"filter":"isValid(datum.chikou)"}],"mark":{"type":"line","strokeWidth":1,"color":"#1fb01f"},
 "encoding":{"x":{"field":"i","type":"quantitative","title":null,"scale":{"domain":[-0.34,316.3],"nice":false,"zero":false}},
  "y":{"field":"chikou","type":"quantitative","title":null,"scale":{"domain":[172.95,203.7],"nice":false,"zero":false}}}},
{"data":{"name":"levels"},"mark":{"type":"rule","strokeWidth":2,"color":"#ff0000"},
 "encoding":{"y":{"field":"level","type":"quantitative","title":null,"scale":{"domain":[172.95,203.7],"nice":false,"zero":false}}}},
{"data":{"name":"price"},"mark":{"type":"rule","strokeWidth":1,"color":"#9a9a9a"},
 "encoding":{"y":{"field":"price","type":"quantitative","title":null,"scale":{"domain":[172.95,203.7],"nice":false,"zero":false}}}},
{"data":{"name":"levels"},"mark":{"type":"point","shape":"M-1,-0.28H1V0.28H-1Z","size":1369,"filled":true,"color":"#ff0000","opacity":1,"strokeWidth":0},
 "encoding":{"x":{"datum":321.8,"type":"quantitative","scale":{"domain":[-0.34,316.3],"nice":false,"zero":false}},
  "y":{"field":"level","type":"quantitative","title":null,"scale":{"domain":[172.95,203.7],"nice":false,"zero":false}}}},
{"data":{"name":"levels"},"mark":{"type":"text","font":"Liberation Sans","fontSize":9,"color":"#000000","align":"center","baseline":"middle"},
 "encoding":{"x":{"datum":321.8,"type":"quantitative","scale":{"domain":[-0.34,316.3],"nice":false,"zero":false}},
  "y":{"field":"level","type":"quantitative","title":null,"scale":{"domain":[172.95,203.7],"nice":false,"zero":false}},
  "text":{"field":"level","type":"quantitative","format":".3f"}}},
{"data":{"name":"price"},"mark":{"type":"point","shape":"M-1,-0.3H1V0.3H-1Z","size":1089,"filled":true,"color":"#ffffff","opacity":1,"strokeWidth":0},
 "encoding":{"x":{"datum":322.1,"type":"quantitative","scale":{"domain":[-0.34,316.3],"nice":false,"zero":false}},
  "y":{"field":"price","type":"quantitative","title":null,"scale":{"domain":[172.95,203.7],"nice":false,"zero":false}}}},
{"data":{"name":"price"},"mark":{"type":"text","font":"Liberation Sans","fontSize":9,"color":"#000000","align":"center","baseline":"middle"},
 "encoding":{"x":{"datum":322.1,"type":"quantitative","scale":{"domain":[-0.34,316.3],"nice":false,"zero":false}},
  "y":{"field":"price","type":"quantitative","title":null,"scale":{"domain":[172.95,203.7],"nice":false,"zero":false}},
  "text":{"field":"price","type":"quantitative","format":".3f"}}},
{"data":{"values":[{}]},"mark":{"type":"point","shape":"triangle-down","size":40,"filled":true,"color":"#808080","opacity":1},
 "encoding":{"x":{"datum":253,"type":"quantitative","scale":{"domain":[-0.34,316.3],"nice":false,"zero":false}},
  "y":{"datum":203.6,"type":"quantitative","scale":{"domain":[172.95,203.7],"nice":false,"zero":false}}}}
]
}
